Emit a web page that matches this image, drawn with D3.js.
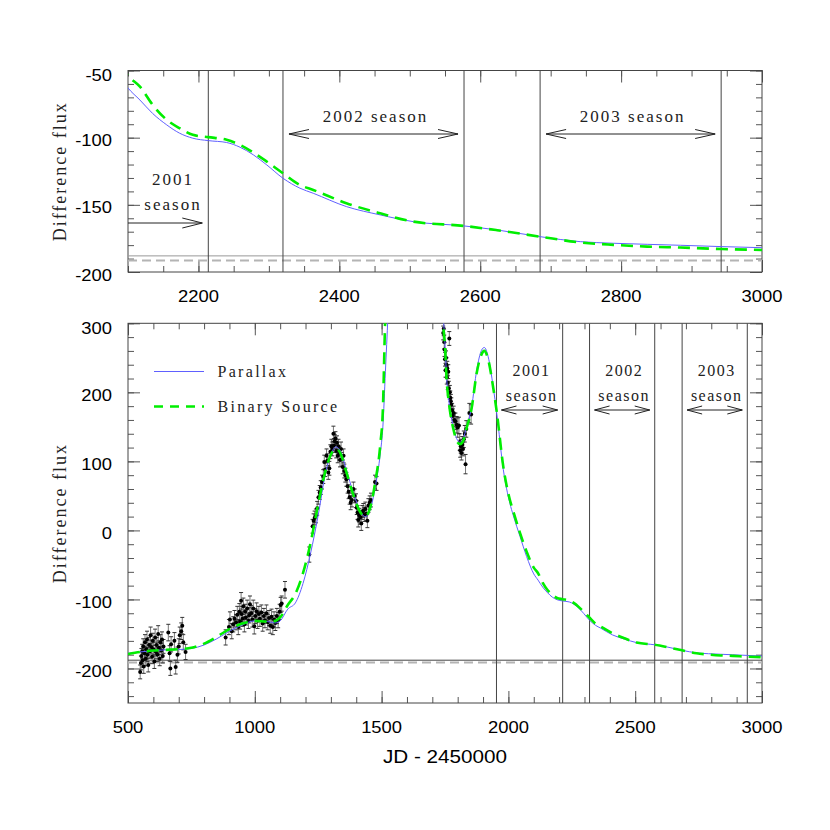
<!DOCTYPE html>
<html><head><meta charset="utf-8">
<script src="https://cdn.jsdelivr.net/npm/d3@7"></script>
<style>body{margin:0;background:#fff} svg{display:block}</style>
</head><body><svg id="c" width="830" height="830"></svg>
<script>
// ---------------- DATA ----------------
const parallaxModel = [[500,-178],[550,-176],[600,-174],[650,-173],[700,-172.5],[750,-171],[800,-166],[850,-157],[900,-146],[950,-137],[1000,-131],[1050,-132],[1080,-134],[1100,-131],[1130,-114],[1160,-105],[1190,-77],[1220,-33],[1250,22],[1280,85],[1300,110],[1320,121],[1340,113],[1360,89],[1390,53],[1415,29],[1435,20],[1455,30],[1475,63],[1495,112],[1505,150],[1515,230],[1525,310],[1540,450],[1640,1200],[1735,380],[1745,300],[1750,271],[1756,223],[1763,194],[1770,174],[1783,150],[1796,133],[1809,128],[1822,133],[1835,150],[1855,179],[1875,232],[1894,261],[1905,265],[1920,252],[1940,208],[1954,170],[1980,88],[2006,39],[2019,22],[2046,-9],[2072,-38],[2100,-63],[2117,-72],[2135,-82],[2155,-90.5],[2173,-96.6],[2192,-100.4],[2214,-102.2],[2240,-103.6],[2259,-107.1],[2278,-112.8],[2297,-120.3],[2320,-130.2],[2344,-137.6],[2363,-141.4],[2410,-151.3],[2458,-157.5],[2505,-162.5],[2577,-165.7],[2624,-168.7],[2685,-173.7],[2742,-177.4],[2789,-178.6],[2837,-179.4],[2884,-180.1],[2943,-181.1],[3000,-181.9]];

const binaryModel = [[500,-179],[550,-176],[600,-174],[650,-173],[700,-172],[750,-170],[800,-164],[850,-154],[900,-143],[950,-135],[1000,-131],[1050,-132],[1080,-131],[1100,-126],[1130,-108],[1160,-92],[1190,-62],[1220,-18],[1250,38],[1280,88],[1300,110],[1320,118],[1340,110],[1360,86],[1390,50],[1415,27],[1435,20],[1455,33],[1475,70],[1495,125],[1505,175],[1513,290],[1525,400],[1540,520],[1640,1200],[1735,400],[1743,300],[1750,268],[1756,220],[1763,192],[1770,172],[1783,147],[1796,130],[1809,125],[1822,130],[1835,148],[1855,177],[1875,228],[1894,255],[1905,260],[1920,248],[1940,207],[1954,172],[1980,92],[2006,44],[2019,28],[2046,-4],[2072,-31],[2100,-54],[2117,-62],[2135,-75.6],[2155,-86.7],[2173,-92.9],[2192,-97.9],[2214,-99.6],[2240,-101.6],[2259,-105.4],[2278,-111.1],[2297,-117.8],[2320,-126.5],[2344,-135.2],[2363,-138.9],[2410,-148.8],[2458,-156.3],[2505,-162.5],[2577,-165.7],[2624,-168.9],[2685,-173.7],[2742,-178],[2789,-179.8],[2837,-181.1],[2884,-181.8],[2943,-182.9],[3000,-183.6]];

// observed points: [JD-2450000, flux, error]
const observations = [
[548,-205,10],[551,-192,10],[553,-182,11],[556,-175,10],[558,-188,10],[560,-168,11],[562,-197,10],[565,-178,10],[567,-162,11],[570,-186,10],[572,-172,10],[575,-158,12],[577,-180,10],[580,-195,10],[583,-166,11],[586,-175,10],[589,-152,12],[592,-169,10],[595,-183,10],[598,-160,11],[601,-172,10],[604,-190,10],[607,-155,12],[610,-176,10],[613,-166,11],[616,-180,10],[619,-150,12],[622,-170,10],[625,-186,10],[628,-162,11],[631,-174,10],[634,-158,11],[637,-182,10],[640,-168,10],[659,-148,12],[664,-178,11],[667,-200,10],[670,-165,11],[683,-160,12],[688,-198,10],[695,-180,11],[700,-168,11],[704,-152,12],[710,-146,12],[714,-138,12],[718,-162,11],[727,-176,11],
[885,-155,11],[898,-140,11],[902,-129,11],[909,-146,11],[915,-136,11],[920,-128,12],[926,-133,11],[931,-122,12],[935,-140,11],[939,-118,12],[942,-132,11],[946,-102,12],[948,-121,11],[952,-128,11],[955,-110,12],[959,-136,11],[962,-118,11],[965,-126,11],[970,-113,12],[975,-131,11],[978,-123,11],[981,-107,12],[986,-120,11],[990,-129,11],[994,-113,12],[998,-139,11],[1002,-124,11],[1007,-117,12],[1011,-131,11],[1016,-121,11],[1020,-128,11],[1026,-119,11],[1031,-135,11],[1036,-124,11],[1040,-130,11],[1046,-120,12],[1051,-133,11],[1056,-127,11],[1061,-138,11],[1066,-125,11],[1071,-140,11],[1076,-129,11],[1081,-134,11],[1087,-124,11],[1092,-130,11],[1098,-118,11],[1102,-108,11],[1106,-106,11],[1119,-86,12],
[1215,-35,11],[1228,6,10],[1232,14,10],[1236,18,10],[1241,21,10],[1246,32,10],[1251,48,10],[1256,55,10],[1260,62,10],[1265,70,10],[1270,78,10],[1274,99,10],[1278,88,10],[1283,108,10],[1286,101,10],[1290,84,10],[1294,90,10],[1298,114,10],[1302,122,10],[1306,118,10],[1310,140,11],[1312,123,10],[1315,129,10],[1318,133,10],[1321,115,10],[1324,127,10],[1327,108,10],[1330,122,10],[1333,112,10],[1336,102,10],[1340,118,10],[1343,103,10],[1347,92,10],[1350,108,10],[1353,86,10],[1357,80,10],[1361,74,10],[1366,64,10],[1370,56,10],[1374,48,10],[1378,40,10],[1383,44,10],[1389,60,10],[1394,50,10],[1399,43,10],[1402,33,10],[1405,26,10],[1408,15,10],[1412,22,10],[1416,19,10],[1420,10,10],[1424,26,10],[1428,29,10],[1432,23,10],[1436,31,10],[1440,24,10],[1444,14,10],[1448,36,10],[1453,40,10],[1458,44,10],[1474,70,10],[1480,68,10],
[1743,286,10],[1745,292,10],[1747,273,10],[1748,262,10],[1750,248,10],[1752,232,10],[1754,250,10],[1756,240,10],[1757,222,10],[1759,235,10],[1761,214,10],[1763,230,10],[1765,206,10],[1767,278,10],[1769,200,10],[1771,192,10],[1773,187,10],[1775,182,10],[1778,174,10],[1781,166,10],[1784,170,10],[1787,160,10],[1791,158,12],[1796,153,12],[1800,149,14],[1805,152,12],[1808,128,12],[1810,116,10],[1812,122,10],[1815,112,10],[1818,124,12],[1821,118,10],[1824,132,12],[1828,140,12],[1831,96,14],[1834,147,12],[1846,170,14],[1853,168,14]
];

// season boundaries (JD-2450000)
const seasonLines = [1953, 2214, 2320, 2577, 2685, 2942];
const seasons = [
  {name:"2001", start:1953, end:2214},
  {name:"2002", start:2320, end:2577},
  {name:"2003", start:2685, end:2942}
];
const baselineSolid = -188;
const baselineDashed = -191.5;

const topXTicks = [2200, 2400, 2600, 2800, 3000];
const topYTicks = [-50, -100, -150, -200];
const botXTicks = [500, 1000, 1500, 2000, 2500, 3000];
const botYTicks = [300, 200, 100, 0, -100, -200];
const seriesNames = ["Parallax", "Binary Source"];

// ---------------- DRAW ----------------
const svg = d3.select("#c");
svg.append("rect").attr("width",830).attr("height",830).attr("fill","#fff");
const sans = "'Liberation Sans', Arial, Helvetica, sans-serif";
const serif = "'Liberation Serif', 'Times New Roman', serif";
const BLUE = "#6060ff", GREEN = "#00ee00", DASH = "12,7";

const xTop = d3.scaleLinear([2100,3000],[128,762]);
const yTop = d3.scaleLinear([-200,-50],[272,70.5]);
const xBot = d3.scaleLinear([500,3000],[128,762]);
const yBot = d3.scaleLinear([-250,300],[703,323.3]);

function panel(id, x, y, xMinorStep, xMajorStep, yMinorStep, yMajorStep, xLabs, yLabs, solidColor, labelTopShift){
  const g = svg.append("g");
  const [x0,x1] = x.range(), [yb,yt] = y.range();
  g.append("clipPath").attr("id",id).append("rect")
    .attr("x",x0).attr("y",yt).attr("width",x1-x0).attr("height",yb-yt);
  const [dx0,dx1] = x.domain(), [dy0,dy1] = y.domain();
  const xMinor = d3.range(Math.ceil(dx0/xMinorStep)*xMinorStep, dx1+1e-6, xMinorStep);
  const xMajor = d3.range(Math.ceil(dx0/xMajorStep)*xMajorStep, dx1+1e-6, xMajorStep);
  const yMinor = d3.range(Math.ceil(dy0/yMinorStep)*yMinorStep, dy1+1e-6, yMinorStep);
  const yMajor = d3.range(Math.ceil(dy0/yMajorStep)*yMajorStep, dy1+1e-6, yMajorStep);
  const axes = [
    [d3.axisBottom, `translate(0,${yb})`, x, xMinor, xMajor],
    [d3.axisTop, `translate(0,${yt})`, x, xMinor, xMajor],
    [d3.axisLeft, `translate(${x0},0)`, y, yMinor, yMajor],
    [d3.axisRight, `translate(${x1},0)`, y, yMinor, yMajor]
  ];
  axes.forEach(([ax, tr, sc, mn, mj]) => {
    [[mn,6],[mj,12]].forEach(([vals,len]) => {
      const a = g.append("g").attr("transform",tr)
        .call(ax(sc).tickValues(vals).tickSize(-len).tickFormat(()=>""));
      a.select(".domain").remove();
      a.selectAll("line").attr("stroke","#555").attr("stroke-width",1);
    });
  });
  g.append("rect").attr("x",x0).attr("y",yt).attr("width",x1-x0).attr("height",yb-yt)
    .attr("fill","none").attr("stroke","#444").attr("stroke-width",1);
  // tick labels
  xLabs.forEach(v => {
    g.append("text").attr("transform",`translate(${x(v)},${yb+29.5}) scale(1.15,1)`)
      .attr("text-anchor","middle").attr("font-family",sans).attr("font-size",16).attr("fill","#000").text(String(v));
  });
  yLabs.forEach((v,i) => {
    const shift = i===0 ? labelTopShift : 0;
    g.append("text").attr("transform",`translate(112,${y(v)+8.5+shift}) scale(1.15,1)`)
      .attr("text-anchor","end").attr("font-family",sans).attr("font-size",16).attr("fill","#000").text(String(v));
  });
  // axis title
  g.append("text").attr("transform",`translate(66,${(yb+yt)/2}) rotate(-90)`)
    .attr("text-anchor","middle").attr("font-family",serif).attr("font-size",18)
    .attr("letter-spacing","2px").attr("fill","#222").text("Difference flux");

  const plot = g.append("g").attr("clip-path",`url(#${id})`);
  // baselines
  plot.append("line").attr("x1",x0).attr("x2",x1).attr("y1",y(baselineDashed)).attr("y2",y(baselineDashed))
    .attr("stroke","#b4b4b4").attr("stroke-width",2).attr("stroke-dasharray","9,5");
  plot.append("line").attr("x1",x0).attr("x2",x1).attr("y1",y(baselineSolid)).attr("y2",y(baselineSolid))
    .attr("stroke",solidColor).attr("stroke-width",1);
  // season lines
  plot.selectAll(".sl").data(seasonLines.filter(d=>d>=dx0 && d<=dx1)).join("line")
    .attr("x1",d=>x(d)).attr("x2",d=>x(d)).attr("y1",yt).attr("y2",yb)
    .attr("stroke","#444").attr("stroke-width",1);
  return {g, plot};
}

function arrow(g, xa, xb, yy, leftHead, rightHead, len, half){
  const L = (a,b,c,d) => g.append("line").attr("x1",a).attr("y1",b).attr("x2",c).attr("y2",d)
    .attr("stroke","#222").attr("stroke-width",1);
  L(xa,yy,xb,yy);
  if(leftHead){ L(xa,yy,xa+len,yy-half); L(xa,yy,xa+len,yy+half); }
  if(rightHead){ L(xb,yy,xb-len,yy-half); L(xb,yy,xb-len,yy+half); }
}
function stext(g, x, y, txt, size, ls){
  g.append("text").attr("x",x).attr("y",y).attr("text-anchor","middle")
    .attr("font-family",serif).attr("font-size",size).attr("letter-spacing",ls+"px")
    .attr("fill","#222").text(txt);
}

// ---- top panel
const T = panel("clipTop", xTop, yTop, 50, 200, 10, 50, topXTicks, topYTicks, "#999", 2);
const lineTop = d3.line().x(d=>xTop(d[0])).y(d=>yTop(d[1])).curve(d3.curveMonotoneX);
T.plot.append("path").attr("d",lineTop(parallaxModel)).attr("fill","none").attr("stroke",BLUE).attr("stroke-width",1);
T.plot.append("path").attr("d",lineTop(binaryModel)).attr("fill","none").attr("stroke",GREEN).attr("stroke-width",2.6).attr("stroke-dasharray",DASH);
{
  const s0 = seasons[0];
  arrow(T.g, xTop.range()[0], xTop(s0.end)-6, 223, false, true, 20, 5);
  stext(T.g, 173, 185, s0.name, 17, 2);
  stext(T.g, 173, 210, "season", 17, 2);
  seasons.slice(1).forEach(s => {
    const a = xTop(s.start)+6, b = xTop(s.end)-6;
    arrow(T.g, a, b, 134, true, true, 20, 4.5);
    stext(T.g, (a+b)/2+2, 122, s.name+" season", 17, 2);
  });
}

// ---- bottom panel
const B = panel("clipBot", xBot, yBot, 100, 500, 20, 100, botXTicks, botYTicks, "#444", 2);
const obs = B.plot.append("g");
obs.selectAll(".eb").data(observations).join("line")
  .attr("x1",d=>xBot(d[0])).attr("x2",d=>xBot(d[0]))
  .attr("y1",d=>yBot(d[1]-d[2])).attr("y2",d=>yBot(d[1]+d[2]))
  .attr("stroke","#777").attr("stroke-width",1);
["lo","hi"].forEach(sg => {
  const v = d => sg==="lo" ? d[1]-d[2] : d[1]+d[2];
  obs.append("g").selectAll("line").data(observations).join("line")
    .attr("x1",d=>xBot(d[0])-2).attr("x2",d=>xBot(d[0])+2)
    .attr("y1",d=>yBot(v(d))).attr("y2",d=>yBot(v(d)))
    .attr("stroke","#333").attr("stroke-width",1);
});
obs.append("g").selectAll("circle").data(observations).join("circle")
  .attr("cx",d=>xBot(d[0])).attr("cy",d=>yBot(d[1])).attr("r",2).attr("fill","#000");
const lineBot = d3.line().x(d=>xBot(d[0])).y(d=>yBot(d[1])).curve(d3.curveMonotoneX);
B.plot.append("path").attr("d",lineBot(parallaxModel)).attr("fill","none").attr("stroke",BLUE).attr("stroke-width",1);
B.plot.append("path").attr("d",lineBot(binaryModel)).attr("fill","none").attr("stroke",GREEN).attr("stroke-width",2.6).attr("stroke-dasharray",DASH);
seasons.forEach(s => {
  const a = xBot(s.start)+5, b = xBot(s.end)-5;
  arrow(B.g, a, b, 410, true, true, 15, 4);
  stext(B.g, (a+b)/2+2, 375.5, s.name, 16, 1.5);
  stext(B.g, (a+b)/2+2, 400.5, "season", 16, 1.5);
});
// legend
const lg = B.g.append("g");
lg.append("line").attr("x1",154).attr("x2",204).attr("y1",371.5).attr("y2",371.5).attr("stroke",BLUE).attr("stroke-width",1);
lg.append("line").attr("x1",154).attr("x2",204).attr("y1",406.5).attr("y2",406.5).attr("stroke",GREEN).attr("stroke-width",2.6).attr("stroke-dasharray","9,7");
seriesNames.forEach((n,i) => {
  lg.append("text").attr("x",217.5).attr("y",377 + i*34.5).attr("font-family",serif).attr("font-size",16)
    .attr("letter-spacing","2.3px").attr("fill","#222").text(n);
});
// x title
svg.append("text").attr("transform","translate(445,763) scale(1.15,1)").attr("text-anchor","middle")
  .attr("font-family",sans).attr("font-size",18).attr("fill","#000").text("JD - 2450000");
</script></body></html>
